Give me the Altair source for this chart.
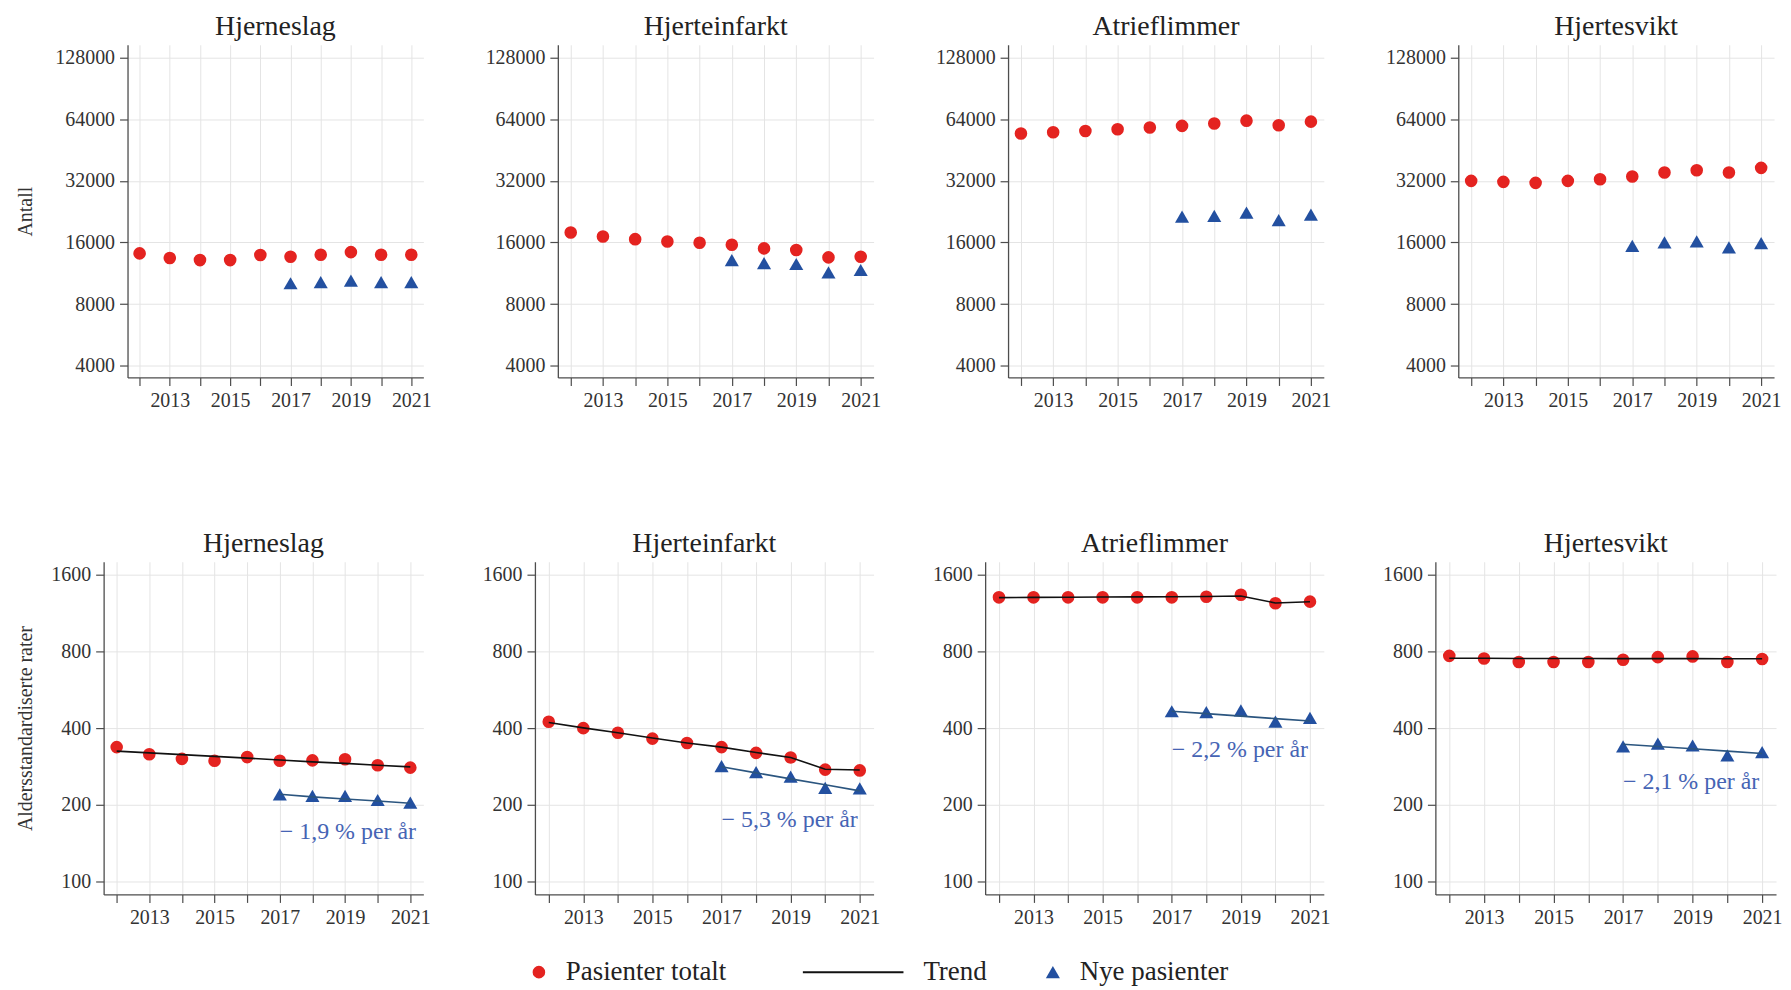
import altair as alt
import pandas as pd

# ---------------- data ----------------
years = [2012, 2013, 2014, 2015, 2016, 2017, 2018, 2019, 2020, 2021]
years_new = [2017, 2018, 2019, 2020, 2021]
x_label_years = [2013, 2015, 2017, 2019, 2021]
diagnoses = ["Hjerneslag", "Hjerteinfarkt", "Atrieflimmer", "Hjertesvikt"]

# Antall (top row)
antall_totalt_hjerneslag = [14150, 13420, 13120, 13120, 13890, 13630, 13930, 14350, 13930, 13930]
antall_totalt_hjerteinfarkt = [17900, 17120, 16600, 16180, 15940, 15590, 14960, 14690, 13520, 13630]
antall_totalt_atrieflimmer = [54500, 55300, 56100, 57200, 58300, 59400, 61000, 63000, 59800, 62300]
antall_totalt_hjertesvikt = [32000, 31640, 31290, 32000, 32600, 33590, 35130, 36080, 35130, 37040]
antall_nye_hjerneslag = [10110, 10230, 10410, 10230, 10230]
antall_nye_hjerteinfarkt = [13120, 12690, 12550, 11430, 11730]
antall_nye_atrieflimmer = [21400, 21600, 22370, 20580, 21860]
antall_nye_hjertesvikt = [15410, 16000, 16180, 15130, 15880]

# Aldersstandardiserte rater (bottom row)
rate_totalt_hjerneslag = [337, 316, 303, 298, 308, 298, 299, 302, 286, 280]
rate_totalt_hjerteinfarkt = [424, 400, 384, 364, 350, 337, 320, 307, 275, 273]
rate_totalt_atrieflimmer = [1305, 1305, 1305, 1305, 1305, 1305, 1312, 1336, 1237, 1255]
rate_totalt_hjertesvikt = [769, 751, 727, 727, 727, 742, 760, 765, 727, 747]
trend_totalt_hjerneslag = [325, 320, 315, 310, 305, 300, 295, 291, 286, 282]
trend_totalt_hjerteinfarkt = [421, 401, 384, 366, 350, 337, 321, 307, 276, 274]
trend_totalt_atrieflimmer = [1302, 1304, 1306, 1308, 1310, 1312, 1315, 1320, 1240, 1253]
trend_totalt_hjertesvikt = [752, 752, 751, 751, 751, 750, 750, 750, 749, 749]
rate_nye_hjerneslag = [220, 217, 217, 209, 204]
rate_nye_hjerteinfarkt = [284, 269, 258, 233, 232]
rate_nye_atrieflimmer = [466, 462, 470, 424, 439]
rate_nye_hjertesvikt = [339, 348, 342, 313, 322]
trend_nye_hjerneslag = [220, 215, 211, 207, 203]
trend_nye_hjerteinfarkt = [282, 267, 253, 240, 227]
trend_nye_atrieflimmer = [466, 456, 446, 436, 427]
trend_nye_hjertesvikt = [346, 339, 332, 325, 318]
annotations = ["\u2212 1,9 % per år", "\u2212 5,3 % per år", "\u2212 2,2 % per år", "\u2212 2,1 % per år"]

legend_labels = ["Pasienter totalt", "Trend", "Nye pasienter"]
antall_ticks = [4000, 8000, 16000, 32000, 64000, 128000]
rate_ticks = [100, 200, 400, 800, 1600]
y_title_top = "Antall"
y_title_bottom = "Aldersstandardiserte rater"

# ---------------- styling ----------------
FONT = "Liberation Serif"
RED = "#e42320"
BLUE = "#2350a0"
NAVY = "#2b557f"
ANNOT = "#4664b4"
X_DOMAIN = [2011.6, 2021.4]
LABEL_EXPR = f"indexof({x_label_years}, datum.value) >= 0 ? datum.label : ''"


def panel(title, tot, new, y_ticks, y_domain, y_title, extent, title_pad, width,
          trend_tot=None, trend_new=None, note=None):
    x = alt.X("year:Q",
              scale=alt.Scale(domain=X_DOMAIN, nice=False, zero=False),
              axis=alt.Axis(values=years, format="d", title=None, labelExpr=LABEL_EXPR,
                            labelFlush=False, labelOverlap=False))
    ax_kw = dict(values=y_ticks, format="d", minExtent=extent, maxExtent=extent,
                 labelFlush=False, labelOverlap=False, titlePadding=title_pad)
    if y_title:
        yaxis = alt.Axis(title=y_title, **ax_kw)
    else:
        yaxis = alt.Axis(title=None, **ax_kw)
    y = alt.Y("value:Q", scale=alt.Scale(type="log", base=2, domain=y_domain, nice=False),
              axis=yaxis)

    df_tot = pd.DataFrame({"year": years, "value": tot})
    df_new = pd.DataFrame({"year": years_new, "value": new})
    layers = [
        alt.Chart(df_tot).mark_point(filled=True, shape="circle", size=160, color=RED,
                                     opacity=1).encode(x=x, y=y),
        alt.Chart(df_new).mark_point(filled=True, shape="triangle-up", size=200, color=BLUE,
                                     opacity=1).encode(x=x, y=y),
    ]
    if trend_tot is not None:
        df_tt = pd.DataFrame({"year": years, "value": trend_tot})
        df_tn = pd.DataFrame({"year": years_new, "value": trend_new})
        df_note = pd.DataFrame({"year": [years_new[0]], "value": [trend_new[-1]],
                                "label": [note]})
        layers += [
            alt.Chart(df_tt).mark_line(color="#111111", strokeWidth=1.6).encode(x=x, y=y),
            alt.Chart(df_tn).mark_line(color=NAVY, strokeWidth=1.6).encode(x=x, y=y),
            alt.Chart(df_note).mark_text(align="left", baseline="middle", dy=29, font=FONT,
                                         fontSize=24, color=ANNOT).encode(x=x, y=y, text="label:N"),
        ]
    return alt.layer(*layers).properties(title=title, width=width, height=334)


top_tot = [antall_totalt_hjerneslag, antall_totalt_hjerteinfarkt,
           antall_totalt_atrieflimmer, antall_totalt_hjertesvikt]
top_new = [antall_nye_hjerneslag, antall_nye_hjerteinfarkt,
           antall_nye_atrieflimmer, antall_nye_hjertesvikt]
bot_tot = [rate_totalt_hjerneslag, rate_totalt_hjerteinfarkt,
           rate_totalt_atrieflimmer, rate_totalt_hjertesvikt]
bot_new = [rate_nye_hjerneslag, rate_nye_hjerteinfarkt,
           rate_nye_atrieflimmer, rate_nye_hjertesvikt]
bot_ttr = [trend_totalt_hjerneslag, trend_totalt_hjerteinfarkt,
           trend_totalt_atrieflimmer, trend_totalt_hjertesvikt]
bot_ntr = [trend_nye_hjerneslag, trend_nye_hjerteinfarkt,
           trend_nye_atrieflimmer, trend_nye_hjertesvikt]

top_widths = [297, 317, 317, 317]
bot_widths = [321, 340, 340, 342]

top_panels = [
    panel(diagnoses[i], top_tot[i], top_new[i], antall_ticks, [3500, 148000],
          y_title_top if i == 0 else None, 74, 18, top_widths[i])
    for i in range(4)
]
bot_panels = [
    panel(diagnoses[i], bot_tot[i], bot_new[i], rate_ticks, [89, 1800],
          y_title_bottom if i == 0 else None, 54, 14, bot_widths[i],
          trend_tot=bot_ttr[i], trend_new=bot_ntr[i], note=annotations[i])
    for i in range(4)
]

row1 = alt.hconcat(*top_panels, spacing=135, bounds="flush")
row2 = alt.hconcat(*bot_panels, spacing=112, bounds="flush")

# invisible spacer so that the top row starts further right than the bottom row
spacer = alt.Chart(pd.DataFrame({"v": [0]})).mark_point(opacity=0).encode(
    x=alt.value(0), y=alt.value(0)).properties(width=24, height=10)
row1_wrapped = alt.hconcat(spacer, row1, spacing=0, bounds="flush")

# ---------------- legend ----------------
leg_df = pd.DataFrame({"label": legend_labels})
lx = alt.X("label:N",
           scale=alt.Scale(type="point", domain=legend_labels, range=[437, 953], padding=0),
           axis=None)
leg_circle = alt.Chart(leg_df).transform_filter(
    alt.datum.label == legend_labels[0]
).mark_point(filled=True, shape="circle", size=160, color=RED, opacity=1).encode(x=lx)
leg_line = alt.Chart(leg_df).transform_filter(
    alt.datum.label == legend_labels[1]
).mark_rule(color="#111111", strokeWidth=2, xOffset=7, x2Offset=108).encode(
    x=lx, x2=alt.X2("label:N"))
leg_tri = alt.Chart(leg_df).transform_filter(
    alt.datum.label == legend_labels[2]
).mark_point(filled=True, shape="triangle-up", size=200, color=BLUE, opacity=1).encode(x=lx)
leg_text_a = alt.Chart(leg_df).transform_filter(
    alt.datum.label != legend_labels[1]
).mark_text(align="left", baseline="middle", dx=27, font=FONT, fontSize=27,
            color="#222222").encode(x=lx, text="label:N")
leg_text_b = alt.Chart(leg_df).transform_filter(
    alt.datum.label == legend_labels[1]
).mark_text(align="left", baseline="middle", dx=128, font=FONT, fontSize=27,
            color="#222222").encode(x=lx, text="label:N")
legend = alt.layer(leg_circle, leg_line, leg_tri, leg_text_a, leg_text_b).properties(
    width=1564, height=20, view=alt.ViewBackground(fill="white", stroke="transparent"))

inner = alt.vconcat(row1_wrapped, row2, spacing=118)
chart = alt.vconcat(inner, legend, spacing=29).properties(
    padding={"left": 7, "top": 2, "right": 0, "bottom": 0}
).configure_view(
    stroke="transparent"
).configure_axis(
    labelFont=FONT, labelFontSize=20, labelColor="#333333",
    titleFont=FONT, titleFontSize=20, titleFontWeight="normal", titleColor="#333333",
    domainColor="#4d4d4d", domainWidth=1.3, tickColor="#4d4d4d", tickSize=8, tickWidth=1.2,
    gridColor="#e4e4e4", gridWidth=1, labelPadding=5
).configure_title(
    font=FONT, fontSize=28, fontWeight="normal", color="#222222",
    baseline="alphabetic", offset=0, frame="group", anchor="middle"
)

chart.save("out.html", embed_options={"renderer": "svg", "actions": False})
